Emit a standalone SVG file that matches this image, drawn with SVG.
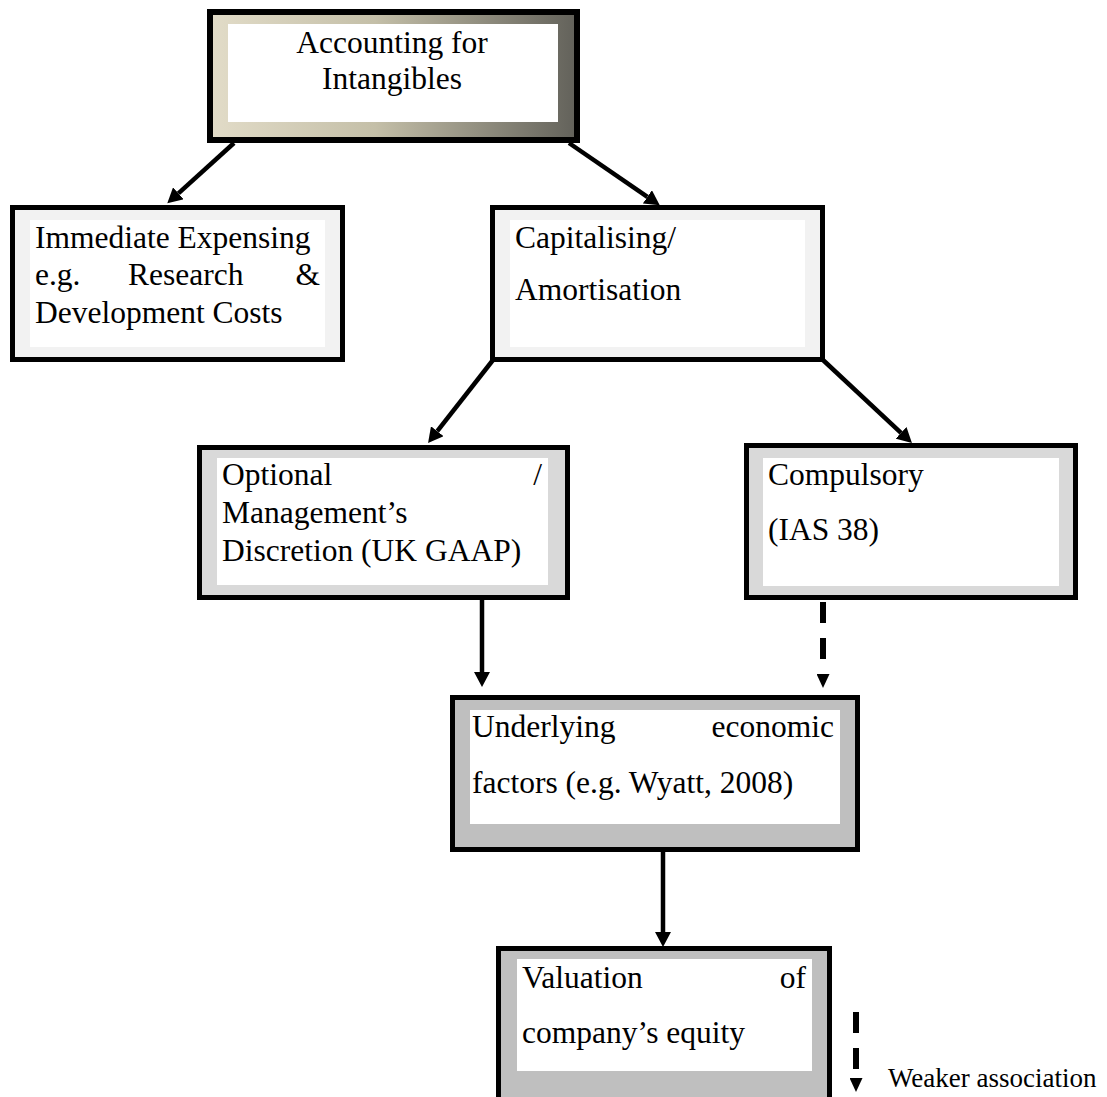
<svg xmlns="http://www.w3.org/2000/svg" width="1107" height="1097" viewBox="0 0 1107 1097">
  <style>
    text { font-family: "Liberation Serif", "Times New Roman", serif; font-size: 31.5px; fill: #000; }
    .frame { stroke: #000; stroke-width: 5; }
    .light { fill: #f2f2f2; }
    .mid { fill: #d9d9d9; }
    .dark { fill: #bfbfbf; }
    .pane { fill: #fff; }
    .link { stroke: #000; stroke-width: 4.5; fill: none; }
    .weak { stroke: #000; stroke-width: 6; fill: none; stroke-dasharray: 21 15; }
    .end { text-anchor: end; }
  </style>
  <defs>
    <linearGradient id="bevel" x1="0" y1="0" x2="1" y2="0">
      <stop offset="0" stop-color="#e2dcc8"/>
      <stop offset="0.45" stop-color="#c4bfa8"/>
      <stop offset="1" stop-color="#62615a"/>
    </linearGradient>
    <marker id="head" markerUnits="userSpaceOnUse" markerWidth="16" markerHeight="16" refX="0" refY="8" orient="auto">
      <path d="M0,0 L15,8 L0,16 z" fill="#000"/>
    </marker>
    <marker id="headSmall" markerUnits="userSpaceOnUse" markerWidth="14" markerHeight="13" refX="0" refY="6.5" orient="auto">
      <path d="M0,0 L14,6.5 L0,13 z" fill="#000"/>
    </marker>
  </defs>

  <rect width="1107" height="1097" fill="#fff"/>

  <!-- connectors -->
  <g id="connectors">
    <line class="link" x1="234" y1="143" x2="178.4" y2="193.3" marker-end="url(#head)"/>
    <line class="link" x1="569" y1="143" x2="647.4" y2="196.8" marker-end="url(#head)"/>
    <line class="link" x1="493" y1="360" x2="437.3" y2="431.2" marker-end="url(#head)"/>
    <line class="link" x1="823" y1="360" x2="901" y2="432.8" marker-end="url(#head)"/>
    <line class="link" x1="482" y1="600" x2="482" y2="672" marker-end="url(#head)"/>
    <line class="weak" x1="823" y1="602" x2="823" y2="674" marker-end="url(#headSmall)"/>
    <line class="link" x1="663" y1="852" x2="663" y2="932" marker-end="url(#head)"/>
  </g>

  <!-- root: Accounting for Intangibles -->
  <g id="node-accounting">
    <rect x="210" y="12" width="367" height="128" fill="url(#bevel)" stroke="#000" stroke-width="6"/>
    <rect class="pane" x="228" y="24" width="330" height="98"/>
    <text x="392" y="53" text-anchor="middle">Accounting for</text>
    <text x="392" y="89" text-anchor="middle">Intangibles</text>
  </g>

  <g id="node-expensing">
    <rect class="frame light" x="12.5" y="207.5" width="330" height="152"/>
    <rect class="pane" x="30" y="220" width="295" height="127"/>
    <text x="35" y="248">Immediate Expensing</text>
    <text x="35" y="285">e.g.</text>
    <text x="128" y="285">Research</text>
    <text class="end" x="320" y="285">&amp;</text>
    <text x="35" y="323">Development Costs</text>
  </g>

  <g id="node-capitalising">
    <rect class="frame light" x="492.5" y="207.5" width="330" height="152"/>
    <rect class="pane" x="510" y="220" width="295" height="127"/>
    <text x="515" y="248">Capitalising/</text>
    <text x="515" y="300">Amortisation</text>
  </g>

  <g id="node-optional">
    <rect class="frame mid" x="199.5" y="447.5" width="368" height="150"/>
    <rect class="pane" x="217" y="458" width="331" height="127"/>
    <text x="222" y="485">Optional</text>
    <text class="end" x="542" y="485">/</text>
    <text x="222" y="523">Management’s</text>
    <text x="222" y="561">Discretion (UK GAAP)</text>
  </g>

  <g id="node-compulsory">
    <rect class="frame mid" x="746.5" y="445.5" width="329" height="152"/>
    <rect class="pane" x="763" y="458" width="296" height="128"/>
    <text x="768" y="485">Compulsory</text>
    <text x="768" y="540">(IAS 38)</text>
  </g>

  <g id="node-underlying">
    <rect class="frame dark" x="452.5" y="697.5" width="405" height="152"/>
    <rect class="pane" x="470" y="710" width="370" height="114"/>
    <text x="472" y="737">Underlying</text>
    <text class="end" x="834" y="737">economic</text>
    <text x="472" y="793">factors (e.g. Wyatt, 2008)</text>
  </g>

  <g id="node-valuation">
    <rect class="frame dark" x="498.5" y="948.5" width="331" height="160"/>
    <rect class="pane" x="517" y="959" width="295" height="112"/>
    <text x="522" y="988">Valuation</text>
    <text class="end" x="806" y="988">of</text>
    <text x="522" y="1043">company’s equity</text>
  </g>

  <!-- key for the dashed connector -->
  <g id="legend">
    <line class="weak" x1="856" y1="1012" x2="856" y2="1078" stroke-dasharray="21 17" marker-end="url(#headSmall)"/>
    <text x="888" y="1087" style="font-size:27px">Weaker association</text>
  </g>
</svg>
